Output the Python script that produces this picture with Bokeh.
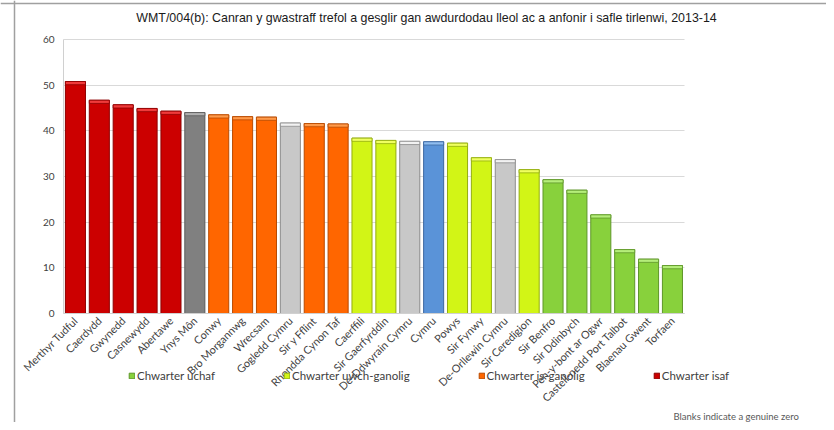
from bokeh.plotting import figure
from bokeh.models import (ColumnDataSource, Legend, LegendItem, Label, FixedTicker,
                          Range1d, Span)
from bokeh.embed import file_html
from bokeh.resources import INLINE

areas = ["Merthyr Tudful", "Caerdydd", "Gwynedd", "Casnewydd", "Abertawe", "Ynys Môn",
         "Conwy", "Bro Morgannwg", "Wrecsam", "Gogledd Cymru", "Sir y Fflint",
         "Rhondda Cynon Taf", "Caerffili", "Sir Gaerfyrddin", "De-Ddwyrain Cymru", "Cymru",
         "Powys", "Sir Fynwy", "De-Orllewin Cymru", "Sir Ceredigion", "Sir Benfro",
         "Sir Ddinbych", "Pen-y-bont ar Ogwr", "Castell-nedd Port Talbot", "Blaenau Gwent",
         "Torfaen"]
values = [50.8, 46.7, 45.7, 44.9, 44.3, 44.0, 43.5, 43.1, 43.0, 41.7, 41.6, 41.5, 38.4,
          37.9, 37.7, 37.6, 37.3, 34.1, 33.7, 31.5, 29.3, 27.0, 21.6, 14.0, 11.9, 10.5]
groups = ["isaf"] * 5 + ["median"] + ["is"] * 3 + ["region"] + ["is"] * 2 + ["uwch"] * 2 + \
         ["region", "wales", "uwch", "uwch", "region", "uwch"] + ["uchaf"] * 6
legend_labels = ["Chwarter uchaf", "Chwarter uwch-ganolig", "Chwarter is-ganolig", "Chwarter isaf"]
legend_groups = ["uchaf", "uwch", "is", "isaf"]
y_ticks = [0, 10, 20, 30, 40, 50, 60]
title_text = ("WMT/004(b): Canran y gwastraff trefol a gesglir gan awdurdodau lleol "
              "ac a anfonir i safle tirlenwi, 2013-14")
note_text = "Blanks indicate a genuine zero"

fill = {"isaf": "#CC0000", "median": "#808080", "is": "#FF6600", "region": "#C8C8C8",
        "uwch": "#D2F516", "wales": "#5A93D8", "uchaf": "#88D13C"}
edge = {"isaf": "#8E0000", "median": "#5A5A5A", "is": "#B84A00", "region": "#8C8C8C",
        "uwch": "#93AD10", "wales": "#3C67A0", "uchaf": "#5E9629"}
cap = {"isaf": "#F03A3A", "median": "#B0B0B0", "is": "#FF9A4A", "region": "#F2F2F2",
       "uwch": "#F0FF60", "wales": "#8FBDF0", "uchaf": "#B5EE7A"}

xs = list(range(len(areas)))
src = ColumnDataSource(dict(
    x=xs, top=values,
    cap_bottom=[v - 0.7 for v in values],
    fill=[fill[g] for g in groups],
    edge=[edge[g] for g in groups],
    cap=[cap[g] for g in groups],
))

# layout geometry (pixels inside the 826x422 figure)
W, H = 826, 422
axis_left_px, step_px = 63, 23.88
y0_px, y60_px = 313, 39
ppu = (y0_px - y60_px) / 60.0
x_start = -0.5 - axis_left_px / step_px
x_end = x_start + W / step_px
y_top = 60 + y60_px / ppu
y_bot = -(H - y0_px) / ppu

p = figure(width=W, height=H, x_range=Range1d(x_start, x_end), y_range=Range1d(y_bot, y_top),
           output_backend="svg", toolbar_location=None, title=None, min_border=0)

bars = p.vbar(x="x", top="top", bottom=0, width=0.84, source=src,
              fill_color="fill", line_color="edge", line_width=1)
p.vbar(x="x", top="top", bottom="cap_bottom", width=0.84, source=src,
       fill_color="cap", line_color="edge", line_width=0.8)

p.outline_line_color = None
p.xgrid.grid_line_color = None
p.ygrid.grid_line_color = "#D9D9D9"
p.ygrid.cross_bounds = (-0.5, len(areas) - 0.5)
p.ygrid.ticker = FixedTicker(ticks=y_ticks)
p.yaxis.ticker = FixedTicker(ticks=y_ticks)
p.xaxis.ticker = FixedTicker(ticks=xs)
p.xaxis.major_label_overrides = {i: a for i, a in zip(xs, areas)}
p.xaxis.fixed_location = 0
p.yaxis.fixed_location = -0.5
p.xaxis.bounds = (-0.5, len(areas) - 0.5)
p.yaxis.bounds = (0, 60)

for ax in (p.xaxis, p.yaxis):
    ax.axis_line_color = "#D0D0D0"
    ax.major_tick_line_color = None
    ax.minor_tick_line_color = None
    ax.major_tick_out = 0
    ax.major_tick_in = 0
    ax.minor_tick_out = 0
    ax.major_label_text_font = "Lato"
    ax.major_label_text_color = "#404040"

p.yaxis.major_label_text_font_size = "10px"
p.yaxis.major_label_standoff = 9
p.xaxis.major_label_text_font_size = "10.8px"
p.xaxis.major_label_orientation = 0.785398
p.xaxis.major_label_standoff = 5

title = Label(x=426, y=H - 17, x_units="screen", y_units="screen", text=title_text,
              text_align="center", text_baseline="middle", text_font="Liberation Sans",
              text_font_size="12.4px", text_color="#1a1a1a")
p.add_layout(title)

items = [LegendItem(label=lab, renderers=[bars], index=groups.index(g))
         for lab, g in zip(legend_labels, legend_groups)]
legend = Legend(items=items, orientation="horizontal", location=(128, 40),
                spacing=68, padding=0, margin=0, glyph_width=7, glyph_height=7,
                label_standoff=2, label_text_font="Lato", label_text_font_size="11.5px",
                label_text_color="#404040", border_line_color=None,
                background_fill_alpha=0, label_height=14)
p.add_layout(legend, "center")

note = Label(x=673, y=1, x_units="screen", y_units="screen", text=note_text,
             text_font="Lato", text_font_size="9.5px", text_color="#595959")
p.add_layout(note)

p.add_layout(Span(location=14, location_units="screen", dimension="height",
                  line_color="#A0A0A0", line_width=1.5))
p.add_layout(Span(location=H - 3, location_units="screen", dimension="width",
                  line_color="#A0A0A0", line_width=1.5))

open("out.html", "w").write(file_html(p, INLINE))
